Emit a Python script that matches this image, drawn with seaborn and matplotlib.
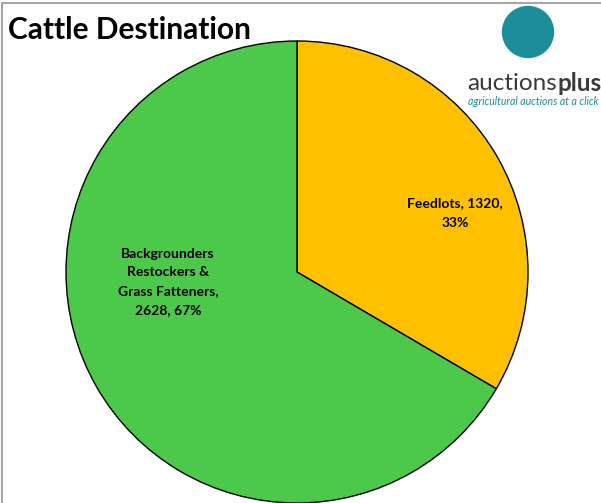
import seaborn as sns
import matplotlib
matplotlib.use("Agg")
from matplotlib import pyplot as plt
from matplotlib.patches import Circle, Rectangle

# data
categories = ["Feedlots", "Backgrounders\nRestockers &\nGrass Fatteners"]
values = [1320, 2628]
colors = ["#FFC000", "#4CC84A"]

sns.set_theme(style="white")
plt.rcParams["font.family"] = ["Lato", "DejaVu Sans"]

W, H = 601, 503
fig = plt.figure(figsize=(W / 100, H / 100), dpi=100)
ax = fig.add_axes([0, 0, 1, 1])

total = sum(values)
pcts = [v / total * 100 for v in values]
label_text = [
    f"Feedlots, {values[0]},\n{pcts[0]:.0f}%",
    f"{categories[1]},\n{values[1]}, {pcts[1]:.0f}%",
]

cx, cy, r = 297, H - 272, 231
wedges, texts = ax.pie(
    values,
    colors=colors,
    startangle=90,
    counterclock=False,
    center=(cx, cy),
    radius=r,
    labels=label_text,
    labeldistance=0.6,
    wedgeprops=dict(edgecolor="black", linewidth=1.0),
    textprops=dict(fontsize=10, fontweight="bold", color="black",
                   ha="center", va="center", linespacing=1.7),
    frame=True,
)
ax.set_xlim(0, W)
ax.set_ylim(0, H)
ax.set_aspect("equal")
ax.axis("off")

# Excel-style label placement
texts[0].set_position((cx + 158, cy + 59))
texts[0].set_ha("center")
texts[1].set_position((cx - 129, cy - 10))
texts[1].set_ha("center")

# chart border (top and left visible)
ax.add_patch(Rectangle((2, -20), W + 40, H - 3 + 20, fill=False,
                       edgecolor="#A6A6A6", linewidth=1.5, clip_on=False))

# title
ax.text(8, H - 30, "Cattle Destination", fontsize=21.5, fontweight="bold",
        ha="left", va="center", color="black")

# logo
ax.add_patch(Circle((528, H - 32), 25.5, color="#1D8C9B", zorder=5))
t1 = ax.text(467, H - 83, "auctions", fontsize=17.5, color="#3A3A3A",
             ha="left", va="center", zorder=5)
fig.canvas.draw()
bb = t1.get_window_extent()
ax.text(bb.x1 + 1, H - 83, "plus", fontsize=17.5, fontweight="bold",
        color="#3A3A3A", ha="left", va="center", zorder=5)
ax.text(468, H - 101, "agricultural auctions at a click", fontsize=7.6,
        style="italic", color="#1D8C9B", ha="left", va="center", zorder=5)

fig.savefig("out.png", dpi=100)
